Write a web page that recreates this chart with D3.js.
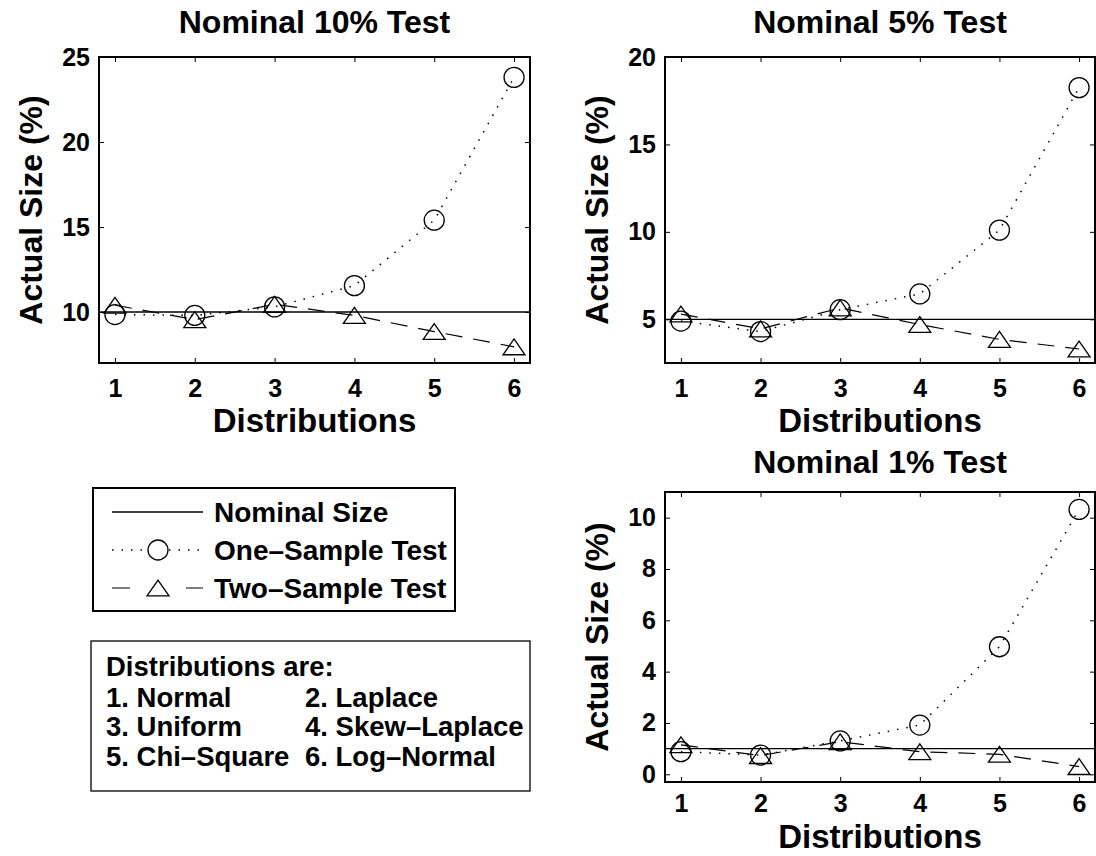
<!DOCTYPE html>
<html>
<head>
<meta charset="utf-8">
<script src="https://cdn.jsdelivr.net/npm/d3@7"></script>
<style>
  body { margin: 0; background: #fff; }
  svg text { font-family: "Liberation Sans", Arial, Helvetica, sans-serif; font-weight: bold; fill: #000; }
</style>
</head>
<body>
<div class="container"></div>
<script>
// x values: distribution index
const distributions = [1, 2, 3, 4, 5, 6];

// nominal 10% test
const oneSample10 = [9.85, 9.8, 10.3, 11.55, 15.4, 23.8];
const twoSample10 = [10.4, 9.55, 10.45, 9.8, 8.85, 7.95];
const yTicks10 = [10, 15, 20, 25];

// nominal 5% test
const oneSample5 = [4.9, 4.3, 5.55, 6.45, 10.1, 18.25];
const twoSample5 = [5.3, 4.45, 5.65, 4.7, 3.85, 3.3];
const yTicks5 = [5, 10, 15, 20];

// nominal 1% test
const oneSample1 = [0.88, 0.75, 1.3, 1.92, 4.97, 10.32];
const twoSample1 = [1.15, 0.73, 1.27, 0.88, 0.78, 0.3];
const yTicks1 = [0, 2, 4, 6, 8, 10];

const nominalSizes = [10, 5, 1];
const panelTitles = ["Nominal 10% Test", "Nominal 5% Test", "Nominal 1% Test"];
const legendLabels = ["Nominal Size", "One\u2013Sample Test", "Two\u2013Sample Test"];
const distNames = ["Normal", "Laplace", "Uniform", "Skew\u2013Laplace", "Chi\u2013Square", "Log\u2013Normal"];

const width = 1096, height = 856;

const svg = d3.select(".container")
  .append("svg")
    .attr("width", width)
    .attr("height", height);

const panels = [
  {left: 99, top: 57, w: 431, h: 306, yDomain: [7, 25], ticks: yTicks10, one: oneSample10, two: twoSample10,
   nominal: nominalSizes[0], title: panelTitles[0], titleOff: 24, tickPad: 16, labelOff: 69},
  {left: 665, top: 57, w: 430, h: 306, yDomain: [2.5, 20], ticks: yTicks5, one: oneSample5, two: twoSample5,
   nominal: nominalSizes[1], title: panelTitles[1], titleOff: 24, tickPad: 16, labelOff: 69},
  {left: 665, top: 492, w: 430, h: 290, yDomain: [-0.3, 11], ticks: yTicks1, one: oneSample1, two: twoSample1,
   nominal: nominalSizes[2], title: panelTitles[2], titleOff: 19, tickPad: 12, labelOff: 66}
];

const dotted = "1.5,8";
const dashed = "17,11";

function trianglePath(s) {
  // open triangle, bounding box centred on the point
  return "M0," + (-s * 0.36) + "L" + (s / 2) + "," + (s * 0.36) + "L" + (-s / 2) + "," + (s * 0.36) + "Z";
}

panels.forEach(p => drawPanel(p));

function drawPanel(p) {
  const x = d3.scaleLinear().domain([0.8, 6.2]).range([0, p.w]);
  const y = d3.scaleLinear().domain(p.yDomain).range([p.h, 0]);

  const g = svg.append("g")
    .attr("transform", "translate(" + p.left + "," + p.top + ")");

  // axes with inward ticks, labels on left and bottom
  const xAxis = g.append("g")
    .attr("transform", "translate(0," + p.h + ")")
    .call(d3.axisBottom(x).tickValues(distributions).tickFormat(d3.format("d"))
      .tickSizeInner(-5).tickSizeOuter(0).tickPadding(p.tickPad));
  const yAxis = g.append("g")
    .call(d3.axisLeft(y).tickValues(p.ticks).tickSizeInner(-5).tickSizeOuter(0).tickPadding(9));
  g.append("g")
    .call(d3.axisTop(x).tickValues(distributions).tickSizeInner(-5).tickSizeOuter(0).tickFormat(""));
  g.append("g")
    .attr("transform", "translate(" + p.w + ",0)")
    .call(d3.axisRight(y).tickValues(p.ticks).tickSizeInner(-5).tickSizeOuter(0).tickFormat(""));

  g.selectAll(".domain").remove();
  g.selectAll(".tick line").attr("stroke", "#000").attr("stroke-width", 1);
  xAxis.selectAll("text").attr("font-size", 25).attr("dy", "0.71em");
  yAxis.selectAll("text").attr("font-size", 25);

  g.append("rect")
    .attr("width", p.w)
    .attr("height", p.h)
    .attr("fill", "none")
    .attr("stroke", "#000")
    .attr("stroke-width", 2);

  // nominal size
  g.append("line")
    .attr("x1", 0)
    .attr("x2", p.w)
    .attr("y1", y(p.nominal))
    .attr("y2", y(p.nominal))
    .attr("stroke", "#000")
    .attr("stroke-width", 1.3);

  const line = d3.line().x((d, i) => x(distributions[i])).y(d => y(d));

  g.append("path")
    .datum(p.one)
    .attr("d", line)
    .attr("fill", "none")
    .attr("stroke", "#000")
    .attr("stroke-width", 1.5)
    .attr("stroke-dasharray", dotted);

  g.append("path")
    .datum(p.two)
    .attr("d", line)
    .attr("fill", "none")
    .attr("stroke", "#000")
    .attr("stroke-width", 1.2)
    .attr("stroke-dasharray", dashed);

  g.selectAll(".circ")
    .data(p.one)
    .enter()
    .append("circle")
      .attr("cx", (d, i) => x(distributions[i]))
      .attr("cy", d => y(d))
      .attr("r", 10)
      .attr("fill", "none")
      .attr("stroke", "#000")
      .attr("stroke-width", 1.3);

  g.selectAll(".tri")
    .data(p.two)
    .enter()
    .append("path")
      .attr("transform", (d, i) => "translate(" + x(distributions[i]) + "," + y(d) + ")")
      .attr("d", trianglePath(22))
      .attr("fill", "none")
      .attr("stroke", "#000")
      .attr("stroke-width", 1.3);

  // title and labels
  g.append("text")
    .attr("x", p.w / 2)
    .attr("y", -p.titleOff)
    .attr("text-anchor", "middle")
    .attr("font-size", 32)
    .text(p.title);

  g.append("text")
    .attr("x", p.w / 2)
    .attr("y", p.h + p.labelOff)
    .attr("text-anchor", "middle")
    .attr("font-size", 33)
    .text("Distributions");

  g.append("text")
    .attr("transform", "translate(-57," + (p.h / 2) + ") rotate(-90)")
    .attr("text-anchor", "middle")
    .attr("font-size", 32)
    .text("Actual Size (%)");
}

// legend for the line styles
const legend = svg.append("g");

legend.append("rect")
  .attr("x", 93)
  .attr("y", 488)
  .attr("width", 362)
  .attr("height", 123)
  .attr("fill", "none")
  .attr("stroke", "#000")
  .attr("stroke-width", 2);

const legendY = [512, 550, 588];

legend.append("line")
  .attr("x1", 112).attr("x2", 203)
  .attr("y1", legendY[0]).attr("y2", legendY[0])
  .attr("stroke", "#000").attr("stroke-width", 1.3);

legend.append("line")
  .attr("x1", 112).attr("x2", 203)
  .attr("y1", legendY[1]).attr("y2", legendY[1])
  .attr("stroke", "#000").attr("stroke-width", 1.5)
  .attr("stroke-dasharray", "1.5,8");
legend.append("circle")
  .attr("cx", 158).attr("cy", legendY[1]).attr("r", 10)
  .attr("fill", "#fff").attr("stroke", "#000").attr("stroke-width", 1.3);

legend.append("line")
  .attr("x1", 112).attr("x2", 203)
  .attr("y1", legendY[2]).attr("y2", legendY[2])
  .attr("stroke", "#000").attr("stroke-width", 1.2)
  .attr("stroke-dasharray", "18,56,17");
legend.append("path")
  .attr("transform", "translate(158," + legendY[2] + ")")
  .attr("d", trianglePath(22))
  .attr("fill", "none").attr("stroke", "#000").attr("stroke-width", 1.3);

legend.selectAll(".legend-text")
  .data(legendLabels)
  .enter()
  .append("text")
    .attr("x", 214)
    .attr("y", (d, i) => legendY[i])
    .attr("dy", "0.36em")
    .attr("font-size", 28)
    .text(d => d);

// list of distributions
const distBox = svg.append("g");

distBox.append("rect")
  .attr("x", 91)
  .attr("y", 641)
  .attr("width", 439)
  .attr("height", 150)
  .attr("fill", "none")
  .attr("stroke", "#000")
  .attr("stroke-width", 1.3);

distBox.append("text")
  .attr("x", 106)
  .attr("y", 666)
  .attr("dy", "0.36em")
  .attr("font-size", 27.5)
  .text("Distributions are:");

distBox.selectAll(".dist-name")
  .data(distNames)
  .enter()
  .append("text")
    .attr("x", (d, i) => i % 2 === 0 ? 106 : 305)
    .attr("y", (d, i) => 697 + Math.floor(i / 2) * 29.5)
    .attr("dy", "0.36em")
    .attr("font-size", 27.5)
    .text((d, i) => (i + 1) + ". " + d);
</script>
</body>
</html>
